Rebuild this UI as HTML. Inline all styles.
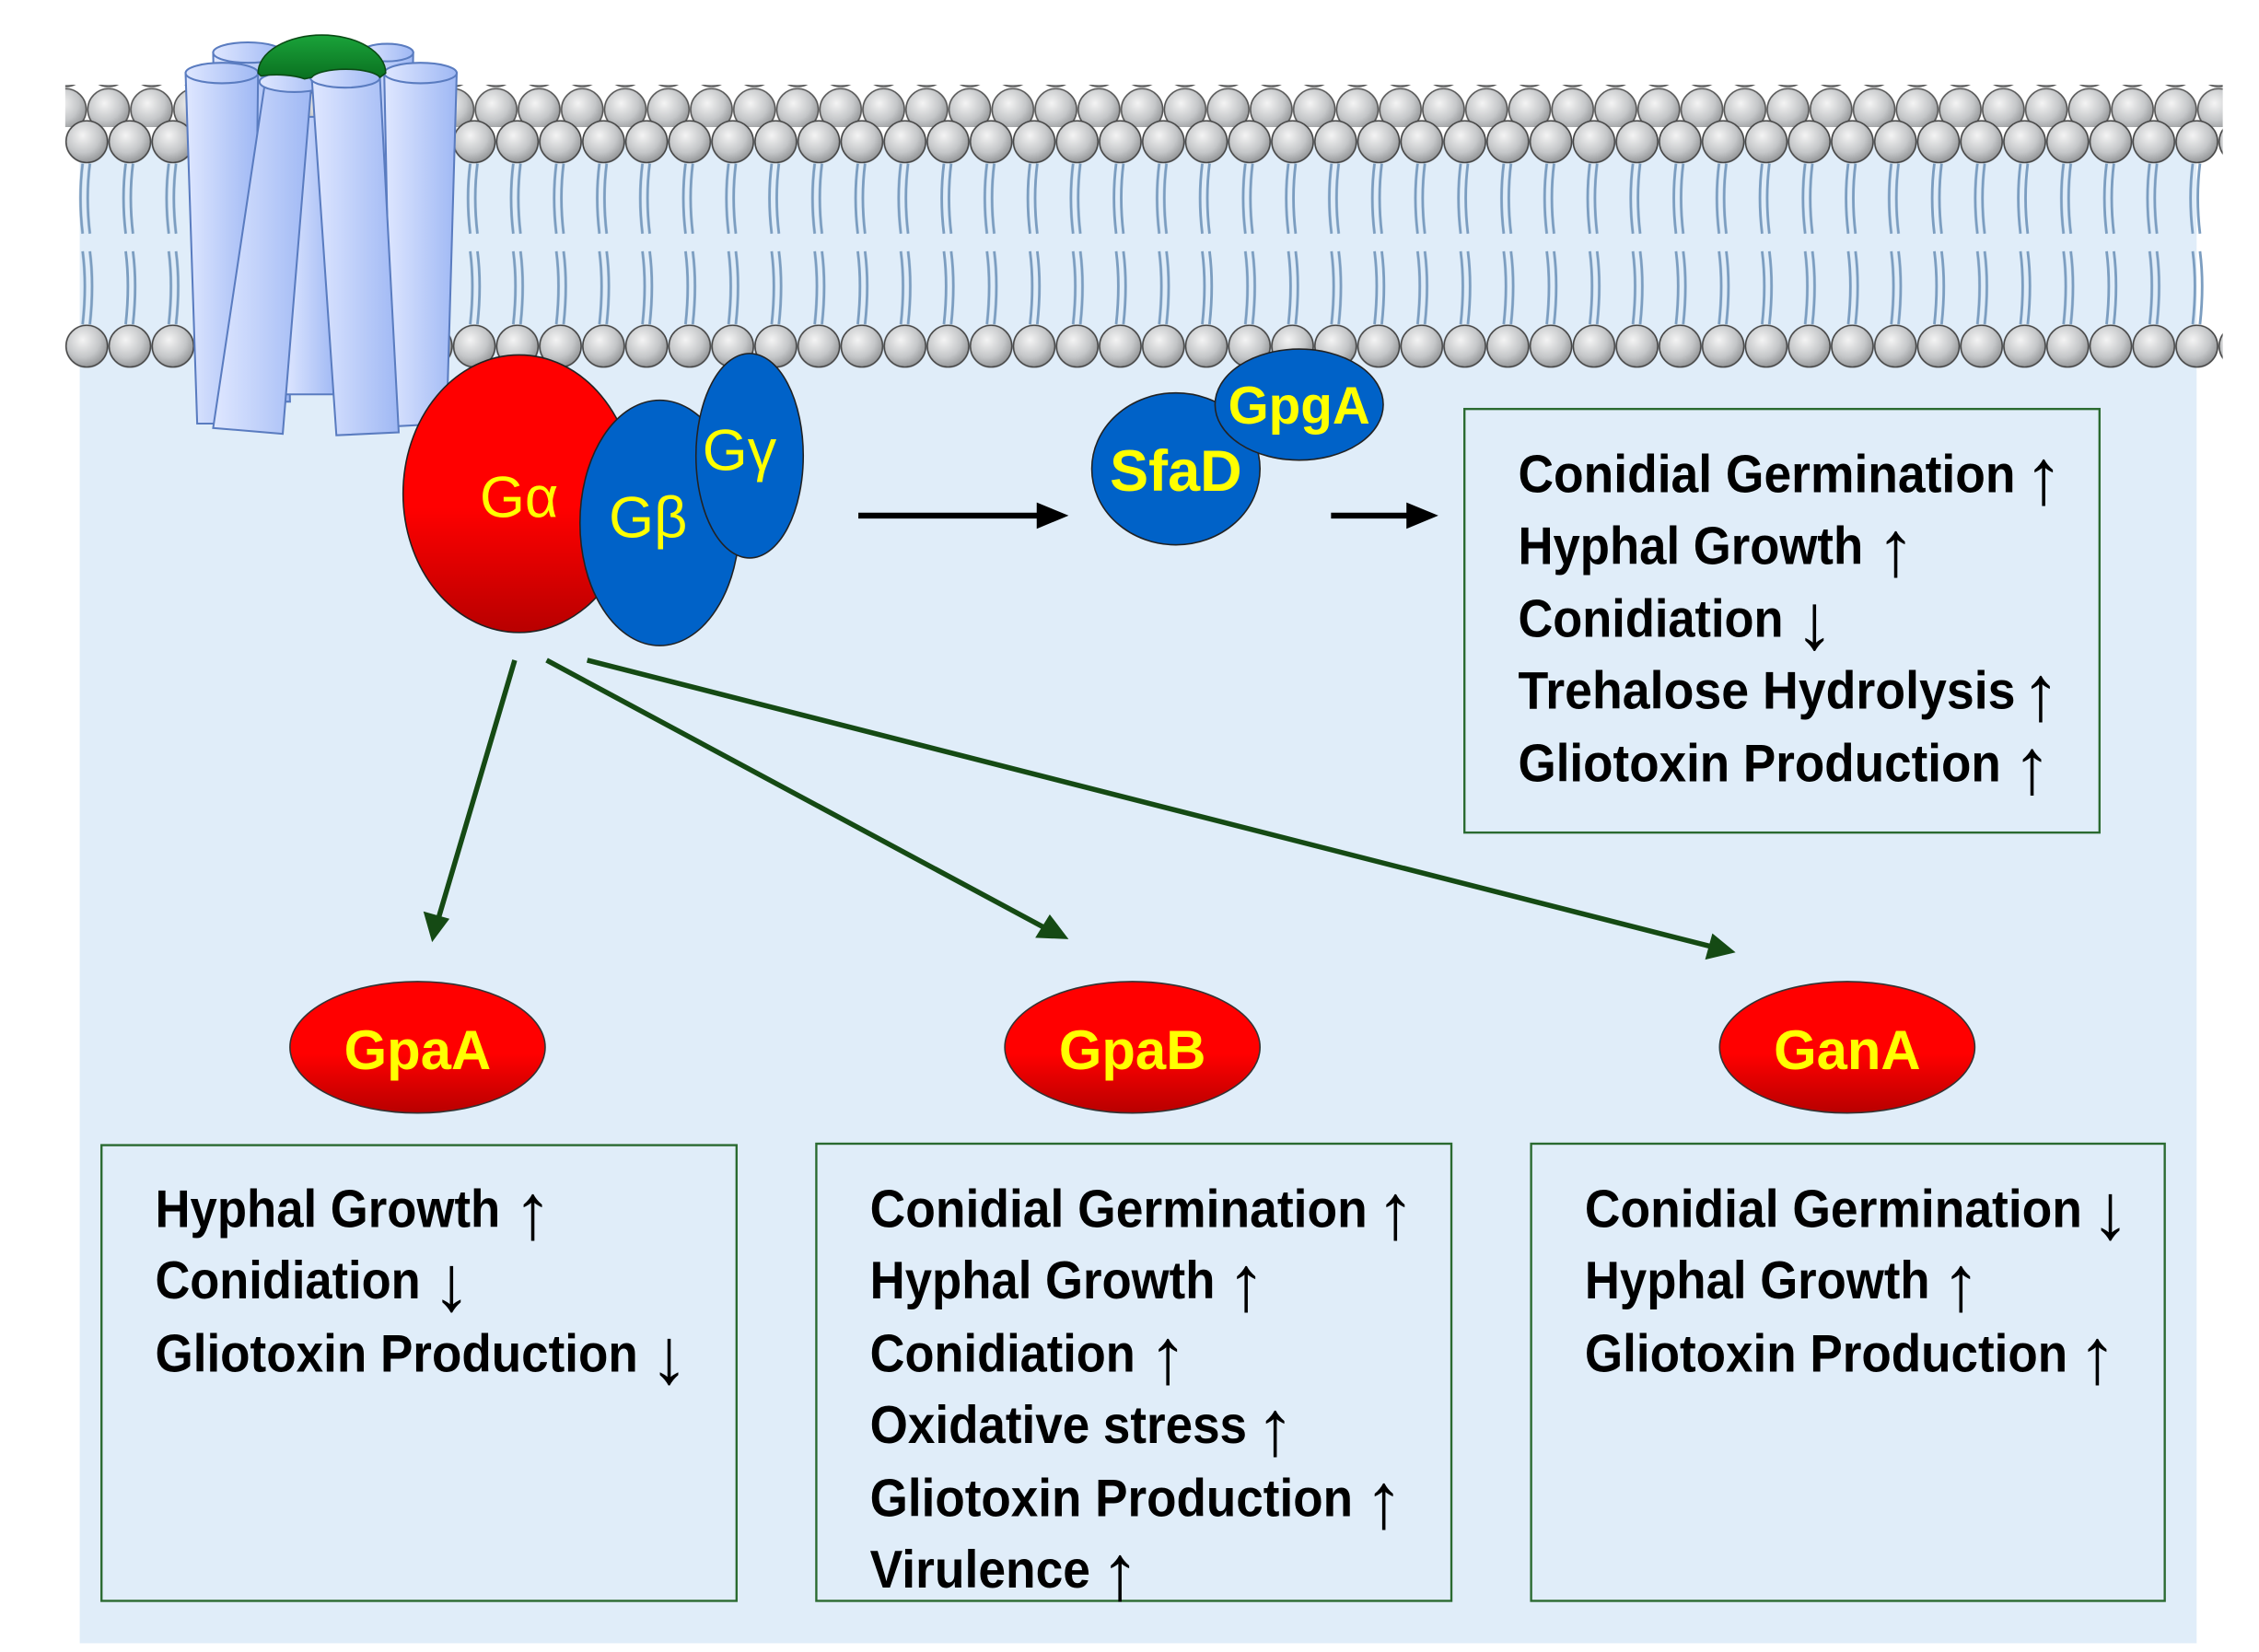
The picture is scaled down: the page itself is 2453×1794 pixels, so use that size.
<!DOCTYPE html>
<html><head><meta charset="utf-8"><style>
html,body{margin:0;padding:0;background:#fff;}
svg{display:block;}
text{font-family:"Liberation Sans",Arial,sans-serif;}
.t{font-weight:bold;font-size:36px;fill:#000;}
.a{font-size:54px;fill:#000;}
</style></head><body>
<svg width="2453" height="1794" viewBox="0 0 1558 1131" preserveAspectRatio="none" xmlns="http://www.w3.org/2000/svg">
<defs>
<radialGradient id="hg" cx="0.4" cy="0.35" r="0.7">
<stop offset="0" stop-color="#f4f4f4"/><stop offset="0.6" stop-color="#c4c6c8"/><stop offset="1" stop-color="#8e9092"/>
</radialGradient>
<pattern id="heads" x="45" y="82" width="29.7" height="30" patternUnits="userSpaceOnUse">
<circle cx="14.85" cy="15" r="14.3" fill="url(#hg)" stroke="#444" stroke-width="1"/>
</pattern>
<pattern id="headsb" x="60" y="60" width="29.7" height="30" patternUnits="userSpaceOnUse">
<circle cx="14.85" cy="15" r="14.3" fill="url(#hg)" stroke="#555" stroke-width="1"/>
</pattern>
<pattern id="headsc" x="45" y="222" width="29.7" height="30" patternUnits="userSpaceOnUse">
<circle cx="14.85" cy="15" r="14.3" fill="url(#hg)" stroke="#444" stroke-width="1"/>
</pattern>
<pattern id="tails" x="45" y="110" width="29.7" height="115" patternUnits="userSpaceOnUse">
<g fill="none" stroke="#7b9dc0" stroke-width="1.8">
<path d="M12 2 Q9 25 12 50"/><path d="M17 2 Q14 25 17 50"/>
<path d="M12 62 Q15 85 12 112"/><path d="M17 62 Q20 85 17 112"/>
</g>
</pattern>
<linearGradient id="cyl" x1="0" y1="0" x2="1" y2="0">
<stop offset="0" stop-color="#dfe7ff"/><stop offset="1" stop-color="#9fb8f4"/>
</linearGradient>
<linearGradient id="red" x1="0" y1="0" x2="0" y2="1">
<stop offset="0.55" stop-color="#ff0000"/><stop offset="1" stop-color="#b80000"/>
</linearGradient>
<linearGradient id="gcap" x1="0" y1="0" x2="0" y2="1">
<stop offset="0" stop-color="#1aa33a"/><stop offset="1" stop-color="#0a7020"/>
</linearGradient>
</defs>
<rect x="0" y="0" width="1558" height="1131" fill="#fff"/>
<rect x="55" y="95" width="1460" height="1030" fill="#e0edf9"/>
<rect x="45" y="110" width="1488" height="115" fill="url(#tails)"/>
<rect x="45" y="58" width="1488" height="29" fill="url(#headsb)"/>
<rect x="45" y="82" width="1488" height="30" fill="url(#heads)"/>
<rect x="45" y="222" width="1488" height="30" fill="url(#headsc)"/>
<g stroke="#5a7cc0" stroke-width="1.3" fill="url(#cyl)">
<path d="M147 36 L195 36 L200 275 L152 275 Z"/><ellipse cx="171" cy="36" rx="24" ry="7"/>
<path d="M250 36 L285 36 L280 275 L245 275 Z"/><ellipse cx="267" cy="36" rx="18" ry="6"/>
<path d="M196 80 L232 80 L230 270 L196 270 Z"/>
<path d="M128 50 L178 50 L175 290 L136 290 Z"/><ellipse cx="153" cy="50" rx="25" ry="7"/>
<path d="M265 50 L315 50 L308 290 L270 292 Z"/><ellipse cx="290" cy="50" rx="25" ry="7"/>
<path d="M183 55 L215 55 L195 297 L147 293 Z"/><ellipse cx="203" cy="56" rx="24" ry="7"/>
<path d="M215 53 L262 53 L275 296 L232 298 Z"/><ellipse cx="238" cy="53" rx="24" ry="7"/>
</g>
<path d="M178 50 A44 26 0 0 1 266 50 L262 53 A24 7 0 0 0 215 53 L210 54 A24 7 0 0 0 180 52 Z" fill="url(#gcap)" stroke="#0a4a14" stroke-width="1"/>
<ellipse cx="358" cy="338" rx="80" ry="95" fill="url(#red)" stroke="#222" stroke-width="1"/>
<ellipse cx="455" cy="358" rx="55" ry="84" fill="#0062c8" stroke="#222" stroke-width="1"/>
<ellipse cx="517" cy="312" rx="37" ry="70" fill="#0062c8" stroke="#222" stroke-width="1"/>
<text x="358" y="354" font-size="40" fill="#ffff00" text-anchor="middle">Gα</text>
<text x="447" y="368" font-size="40" fill="#ffff00" text-anchor="middle">Gβ</text>
<text x="510" y="322" font-size="40" fill="#ffff00" text-anchor="middle">Gγ</text>
<ellipse cx="811" cy="321" rx="58" ry="52" fill="#0062c8" stroke="#222" stroke-width="1"/>
<ellipse cx="896" cy="277" rx="58" ry="38" fill="#0062c8" stroke="#222" stroke-width="1"/>
<text x="811" y="336" font-size="40" font-weight="bold" fill="#ffff00" text-anchor="middle">SfaD</text>
<text x="896" y="290" font-size="36" font-weight="bold" fill="#ffff00" text-anchor="middle">GpgA</text>
<g stroke="#000" stroke-width="4"><line x1="592" y1="353" x2="718" y2="353"/><line x1="918" y1="353" x2="975" y2="353"/></g>
<polygon points="737,353 715,344 715,362" fill="#000"/>
<polygon points="992,353 970,344 970,362" fill="#000"/>
<g stroke="#154a14" stroke-width="3.5">
<line x1="355" y1="452" x2="302" y2="630"/>
<line x1="377" y1="452" x2="722" y2="636"/>
<line x1="405" y1="452" x2="1180" y2="648"/>
</g>
<g fill="#154a14">
<polygon points="298,645 292,624 310,629"/>
<polygon points="737,643 714,642 724,626"/>
<polygon points="1197,652 1176,657 1181,639"/>
</g>
<rect x="1010" y="280" width="438" height="290" fill="none" stroke="#2a6a30" stroke-width="1.5"/>
<g class="t">
<text x="1047" y="337" textLength="343" lengthAdjust="spacingAndGlyphs">Conidial Germination</text>
<text x="1047" y="386" textLength="238" lengthAdjust="spacingAndGlyphs">Hyphal Growth</text>
<text x="1047" y="436" textLength="183" lengthAdjust="spacingAndGlyphs">Conidiation</text>
<text x="1047" y="485" textLength="343" lengthAdjust="spacingAndGlyphs">Trehalose Hydrolysis</text>
<text x="1047" y="535" textLength="333" lengthAdjust="spacingAndGlyphs">Gliotoxin Production</text>
</g>
<g class="a">
<text x="1396" y="345">↑</text><text x="1294" y="394">↑</text><text x="1238" y="444">↓</text><text x="1394" y="493">↑</text><text x="1388" y="543">↑</text>
</g>
<ellipse cx="288" cy="717" rx="88" ry="45" fill="url(#red)" stroke="#333" stroke-width="1"/>
<ellipse cx="781" cy="717" rx="88" ry="45" fill="url(#red)" stroke="#333" stroke-width="1"/>
<ellipse cx="1274" cy="717" rx="88" ry="45" fill="url(#red)" stroke="#333" stroke-width="1"/>
<g font-size="38" font-weight="bold" fill="#ffff00" text-anchor="middle">
<text x="288" y="732">GpaA</text><text x="781" y="732">GpaB</text><text x="1274" y="732">GanA</text>
</g>
<g fill="none" stroke="#2a6a30" stroke-width="1.5">
<rect x="70" y="784" width="438" height="312"/>
<rect x="563" y="783" width="438" height="313"/>
<rect x="1056" y="783" width="437" height="313"/>
</g>
<g class="t">
<text x="107" y="840" textLength="238" lengthAdjust="spacingAndGlyphs">Hyphal Growth</text>
<text x="107" y="889" textLength="183" lengthAdjust="spacingAndGlyphs">Conidiation</text>
<text x="107" y="939" textLength="333" lengthAdjust="spacingAndGlyphs">Gliotoxin Production</text>
<text x="600" y="840" textLength="343" lengthAdjust="spacingAndGlyphs">Conidial Germination</text>
<text x="600" y="889" textLength="238" lengthAdjust="spacingAndGlyphs">Hyphal Growth</text>
<text x="600" y="939" textLength="183" lengthAdjust="spacingAndGlyphs">Conidiation</text>
<text x="600" y="988" textLength="260" lengthAdjust="spacingAndGlyphs">Oxidative stress</text>
<text x="600" y="1038" textLength="333" lengthAdjust="spacingAndGlyphs">Gliotoxin Production</text>
<text x="600" y="1087" textLength="152" lengthAdjust="spacingAndGlyphs">Virulence</text>
<text x="1093" y="840" textLength="343" lengthAdjust="spacingAndGlyphs">Conidial Germination</text>
<text x="1093" y="889" textLength="238" lengthAdjust="spacingAndGlyphs">Hyphal Growth</text>
<text x="1093" y="939" textLength="333" lengthAdjust="spacingAndGlyphs">Gliotoxin Production</text>
</g>
<g class="a">
<text x="354" y="848">↑</text><text x="298" y="897">↓</text><text x="448" y="947">↓</text>
<text x="949" y="848">↑</text><text x="846" y="897">↑</text><text x="792" y="947">↑</text><text x="866" y="996">↑</text><text x="941" y="1046">↑</text><text x="759" y="1095">↑</text>
<text x="1442" y="848">↓</text><text x="1339" y="897">↑</text><text x="1433" y="947">↑</text>
</g>
</svg>
</body></html>
